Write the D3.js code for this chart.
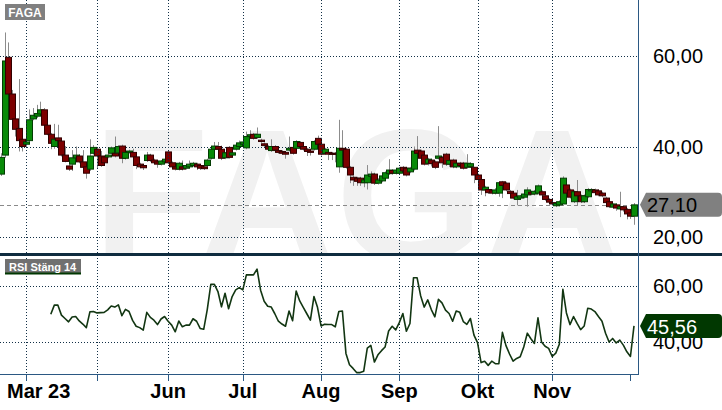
<!DOCTYPE html>
<html><head><meta charset="utf-8">
<script src="https://cdn.jsdelivr.net/npm/d3@7/dist/d3.min.js"></script>
<style>body{margin:0;background:#fff}svg{display:block}text{font-family:"Liberation Sans",Arial,sans-serif}</style>
</head><body><svg id="c" width="722" height="410"></svg>
<script>
const symbol = "FAGA";
const rsiTitle = "RSI Stäng 14";
const open  = [33.9,38.1,59.7,51.6,46.1,44.0,41.6,40.5,41.3,46.1,46.7,47.2,48.1,44.7,42.7,40.0,41.9,41.2,38.1,35.7,36.1,37.5,37.9,36.6,35.5,35.0,38.5,39.4,37.9,37.7,37.7,38.5,38.5,38.6,40.1,37.4,38.7,38.7,37.7,36.1,35.8,36.9,38.1,37.0,36.6,36.1,36.6,38.8,36.4,35.5,35.0,35.5,35.2,35.5,35.8,36.1,35.8,35.5,35.8,37.4,39.4,40.0,39.4,37.5,39.8,38.1,39.4,40.0,40.5,39.7,42.2,42.7,42.0,41.4,40.6,40.0,39.1,40.0,39.1,38.9,38.7,39.2,39.8,39.6,40.9,40.0,39.4,39.0,39.4,41.8,40.5,38.5,38.7,38.5,38.5,35.5,39.6,39.4,35.4,33.2,33.0,33.0,32.0,32.0,33.4,33.9,31.9,32.4,33.0,34.0,34.7,34.1,34.1,35.4,35.2,34.4,35.0,39.2,39.0,38.1,36.3,37.0,36.6,37.4,37.6,38.3,36.1,37.0,35.5,36.3,36.3,35.4,35.6,35.4,33.7,32.7,30.4,30.5,30.2,29.7,29.7,32.2,31.9,30.1,29.7,28.3,28.6,28.8,29.3,29.9,29.5,29.7,30.0,29.1,28.3,27.6,26.9,27.1,27.3,31.5,30.4,27.8,30.0,29.1,27.8,28.9,30.2,30.4,30.2,29.7,28.6,27.8,26.6,27.1,26.2,26.7,26.1,25.3,24.6];
const high  = [38.5,65.2,63.0,52.5,50.3,54.9,42.5,41.3,48.2,48.5,49.2,49.9,48.5,45.0,43.0,45.0,44.8,41.5,40.1,36.0,39.2,40.0,38.3,39.2,35.9,41.6,40.3,39.8,39.0,38.0,38.4,40.0,42.2,40.3,40.4,39.0,39.3,39.5,38.0,36.4,36.1,38.8,38.4,37.3,36.9,37.0,37.5,39.1,36.7,35.8,36.6,36.9,36.1,36.9,36.6,36.4,36.1,35.8,37.3,39.7,41.0,41.0,40.2,38.8,40.1,38.9,40.6,41.3,41.3,43.3,43.6,43.0,44.2,41.7,40.9,40.3,41.6,40.3,39.4,39.2,39.0,42.2,40.2,41.4,41.2,40.3,39.7,39.3,41.4,42.4,40.8,39.7,39.0,38.8,38.8,45.9,43.6,39.7,35.7,33.5,33.3,33.3,32.8,35.9,34.5,34.2,33.0,33.8,34.5,37.2,35.0,35.0,35.5,35.7,35.5,35.5,40.0,42.3,39.3,38.4,37.5,37.3,36.9,44.5,37.9,38.6,37.2,37.3,36.6,36.6,36.6,38.3,36.5,35.5,34.0,33.0,31.3,30.8,30.5,30.8,31.9,32.4,32.2,30.4,30.0,30.4,29.3,29.8,31.0,30.2,30.4,31.6,30.3,29.4,28.6,27.9,27.7,28.1,33.4,31.8,30.7,30.3,32.6,29.4,29.4,30.8,30.8,30.7,30.5,30.0,28.9,28.1,27.4,27.4,30.0,27.0,26.4,25.6,27.5];
const low   = [33.5,37.5,49.6,45.5,42.2,38.9,38.9,39.8,41.0,45.8,46.3,46.9,44.5,42.5,39.4,39.5,39.4,37.8,36.5,34.6,34.6,37.2,36.3,35.0,32.9,34.6,38.2,35.2,35.5,36.0,37.4,38.2,37.6,38.3,36.3,37.1,38.4,37.0,35.0,35.2,34.8,36.6,36.6,36.1,35.3,35.8,36.3,36.1,35.2,34.7,34.7,34.7,34.9,35.2,35.5,34.8,34.8,34.8,35.5,37.1,39.1,39.2,37.0,37.2,37.3,37.8,39.1,39.7,40.2,39.4,41.8,41.5,41.7,40.8,39.9,39.1,38.8,38.9,38.4,38.2,37.3,38.9,38.2,39.3,39.7,39.1,37.9,38.0,39.1,40.2,38.0,38.2,37.0,37.0,36.5,34.2,38.0,35.1,31.9,31.3,31.3,31.3,31.0,30.5,32.0,31.5,31.6,32.1,32.7,33.7,33.8,33.8,33.8,34.0,33.4,34.1,34.7,38.0,37.1,35.8,35.8,35.6,35.0,37.1,35.3,35.7,35.5,35.2,35.2,35.4,34.9,35.1,35.3,31.9,32.2,29.3,29.0,29.5,29.4,29.4,28.9,28.6,30.1,29.3,28.3,27.0,28.3,28.5,26.7,29.2,29.2,29.4,29.0,28.0,27.4,26.9,26.6,26.8,27.3,29.4,28.5,27.5,26.9,27.5,27.5,28.6,29.9,29.5,29.0,28.8,27.3,26.4,26.3,25.8,24.4,25.6,23.9,24.0,22.7];
const close = [37.6,58.9,51.6,46.0,43.8,41.3,40.0,41.0,45.9,46.9,47.3,48.1,44.7,42.7,40.7,41.6,41.3,38.1,36.7,35.0,37.5,38.1,36.6,35.4,34.1,37.9,39.8,37.9,35.8,36.4,38.1,39.7,37.9,40.0,37.4,38.7,39.0,37.7,35.8,35.5,35.3,38.1,36.9,36.4,36.1,36.8,37.2,36.4,35.5,35.0,36.3,35.0,35.8,36.1,36.3,35.5,35.2,35.1,37.0,39.4,40.1,39.4,37.4,38.6,37.6,38.6,40.3,40.8,41.0,42.2,42.6,41.8,42.7,41.1,40.2,39.4,40.0,39.2,38.7,38.5,38.3,39.6,38.5,41.1,40.0,39.4,38.9,38.7,41.1,40.5,38.3,39.4,38.3,38.3,38.3,39.6,39.2,35.4,33.7,32.6,32.3,32.0,32.6,33.7,33.9,31.9,32.6,33.5,34.2,34.8,34.1,34.8,35.2,34.6,33.7,35.2,39.0,38.5,37.4,36.1,37.2,36.2,35.4,37.9,36.4,36.1,36.9,35.5,36.3,35.8,35.2,36.3,36.2,33.7,32.7,30.4,31.0,29.8,29.7,30.4,32.0,31.4,30.4,29.6,28.6,28.9,29.1,29.5,30.4,29.5,30.1,31.3,29.3,28.3,27.7,27.3,27.4,27.8,33.0,29.7,28.8,30.0,29.1,27.8,29.1,30.5,30.5,29.8,29.3,29.1,27.6,26.7,27.3,26.4,26.7,26.0,25.1,24.6,27.1];
const rsiStart = 14;
const rsi = [49.8,53.1,53.1,49.5,48.3,47.1,48.8,49.0,47.4,46.3,45.0,50.7,50.8,50.3,50.4,50.5,51.4,52.8,52.4,53.2,49.3,51.6,50.8,47.6,45.5,45.0,44.1,50.5,48.7,47.7,46.1,48.1,49.0,47.3,45.9,43.5,47.4,45.3,45.9,45.9,48.2,47.3,44.7,44.4,51.5,60.6,60.6,58.0,52.5,57.4,51.8,56.2,58.6,59.4,58.6,64.0,64.0,64.0,66.1,58.5,54.5,52.7,52.4,50.0,47.3,46.3,45.5,51.0,47.5,58.2,54.6,52.3,50.0,47.7,56.2,52.3,45.6,46.2,46.1,46.1,45.3,50.8,51.0,35.7,31.6,30.3,28.8,28.8,29.3,37.6,38.6,32.6,35.2,36.7,38.0,43.8,45.5,44.2,46.8,50.1,43.7,46.5,63.0,63.0,56.5,52.4,55.0,51.5,48.9,55.2,53.9,51.3,50.1,47.3,51.0,50.5,47.2,46.2,48.3,42.3,39.6,32.4,32.9,31.4,32.9,32.0,32.0,43.3,38.5,35.5,32.9,33.9,34.5,38.0,43.0,41.0,39.3,48.5,39.8,38.3,37.5,34.6,35.8,39.0,58.8,50.3,46.1,49.0,46.5,44.3,45.6,52.0,51.7,50.8,49.0,47.3,43.0,39.8,41.1,39.5,40.5,38.7,36.3,34.6,45.6];
const priceTicks = [60, 40, 20];
const rsiTicks = [60, 40];
const monthIdx = [7, 27, 47, 68, 90, 112, 134, 155, 177];
const monthLabels = ["", "", "Jun", "Jul", "Aug", "Sep", "Okt", "Nov", ""];
const monthGrid = [true, true, true, true, true, true, true, true, false];
const startLabel = "Mar 23";
const lastPrice = 27.10;
const lastRsi = 45.56;

const fmt = v => v.toFixed(2).replace(".", ",");
const N = close.length;
const plotR = 638;
const svg = d3.select("#c");
const x = d3.scaleLinear().domain([0, N - 1]).range([1, 634]);
const y = d3.scaleLinear().domain([20, 60]).range([237, 56]);
const yr = d3.scaleLinear().domain([40, 60]).range([341.5, 286]);

const defs = svg.append("defs");
defs.append("clipPath").attr("id", "cTop").append("rect").attr("x", 0).attr("y", 0).attr("width", plotR).attr("height", 253);
defs.append("clipPath").attr("id", "cRsi").append("rect").attr("x", 0).attr("y", 256).attr("width", plotR).attr("height", 118);

const topG = svg.append("g").attr("clip-path", "url(#cTop)");
topG.append("text").attr("x", 93).attr("y", 261).attr("font-size", 190).attr("font-weight", "bold")
  .attr("fill", "#f1f1f1").text(symbol);

const gridCol = "#123047";
topG.selectAll(".hg").data(priceTicks).join("line")
  .attr("x1", 0).attr("x2", plotR).attr("y1", d => Math.round(y(d)) + 0.5).attr("y2", d => Math.round(y(d)) + 0.5)
  .attr("stroke", gridCol).attr("stroke-dasharray", "1,2");
const vg = monthIdx.filter((d, i) => monthGrid[i]);
svg.selectAll(".vg").data(vg).join("line")
  .attr("x1", d => Math.round(x(d)) + 0.5).attr("x2", d => Math.round(x(d)) + 0.5)
  .attr("y1", 0).attr("y2", 374).attr("stroke", gridCol).attr("stroke-dasharray", "1,2");

topG.append("line").attr("x1", 0).attr("x2", plotR).attr("y1", Math.round(y(lastPrice)) + 0.5).attr("y2", Math.round(y(lastPrice)) + 0.5)
  .attr("stroke", "#8a8a8a").attr("stroke-dasharray", "4,3");

const idx = d3.range(N);
topG.selectAll(".wick").data(idx).join("line")
  .attr("x1", i => Math.round(x(i)) + 0.5).attr("x2", i => Math.round(x(i)) + 0.5)
  .attr("y1", i => y(high[i])).attr("y2", i => y(low[i]))
  .attr("stroke", "#8c8c8c").attr("stroke-width", 1);
topG.selectAll(".body").data(idx).join("rect")
  .attr("x", i => Math.round(x(i)) - 3 + 0.5)
  .attr("y", i => y(Math.max(open[i], close[i])))
  .attr("width", 6)
  .attr("height", i => Math.max(1, Math.abs(y(open[i]) - y(close[i]))))
  .attr("fill", i => close[i] >= open[i] ? "#088a08" : "#7c0000")
  .attr("stroke", i => close[i] >= open[i] ? "#033d03" : "#320000")
  .attr("stroke-width", 1);

svg.append("rect").attr("x", 0).attr("y", 253).attr("width", 722).attr("height", 3).attr("fill", "#0f2c3f");

const rg = svg.append("g").attr("clip-path", "url(#cRsi)");
rg.selectAll(".rh").data(rsiTicks).join("line")
  .attr("x1", 0).attr("x2", plotR).attr("y1", d => Math.round(yr(d)) + 0.5).attr("y2", d => Math.round(yr(d)) + 0.5)
  .attr("stroke", gridCol).attr("stroke-dasharray", "1,2");
const line = d3.line().x((d, i) => x(i + rsiStart)).y(d => yr(d));
rg.append("path").attr("d", line(rsi)).attr("fill", "none").attr("stroke", "#123612").attr("stroke-width", 1.6)
  .attr("stroke-linejoin", "round");

const frameCol = "#2b5883";
svg.append("line").attr("x1", plotR + 0.5).attr("x2", plotR + 0.5).attr("y1", 0).attr("y2", 374.5).attr("stroke", frameCol);
svg.append("line").attr("x1", 0).attr("x2", plotR + 1).attr("y1", 374.5).attr("y2", 374.5).attr("stroke", frameCol);
svg.selectAll(".tk").data(monthIdx).join("line")
  .attr("x1", d => Math.round(x(d)) + 0.5).attr("x2", d => Math.round(x(d)) + 0.5)
  .attr("y1", 375).attr("y2", 381).attr("stroke", frameCol);

svg.selectAll(".xl").data(monthIdx.map((d, i) => ({d, t: monthLabels[i]})).filter(o => o.t)).join("text")
  .attr("x", o => x(o.d)).attr("y", 398).attr("text-anchor", "middle")
  .attr("font-size", 20).attr("font-weight", "bold").attr("fill", "#000").text(o => o.t);
svg.append("text").attr("x", x(0) + 6).attr("y", 398).attr("font-size", 20).attr("font-weight", "bold").text(startLabel);

svg.selectAll(".yl").data(priceTicks).join("text")
  .attr("x", 653).attr("y", d => y(d) + 7).attr("font-size", 20).text(d => fmt(d));
svg.selectAll(".yrl").data(rsiTicks).join("text")
  .attr("x", 653).attr("y", d => yr(d) + 7).attr("font-size", 20).text(d => fmt(d));

function tag(yc, fill, txtCol, label) {
  const t = yc - 12, b = yc + 12;
  svg.append("path").attr("d", `M640,${yc} L646,${t} L718,${t} Q722,${t} 722,${t+4} L722,${b-4} Q722,${b} 718,${b} L646,${b} Z`).attr("fill", fill);
  svg.append("text").attr("x", 647).attr("y", yc + 7.5).attr("font-size", 20).attr("fill", txtCol).text(label);
}
tag(y(lastPrice), "#808080", "#000", fmt(lastPrice));
tag(yr(lastRsi), "#013801", "#fff", fmt(lastRsi));

svg.append("rect").attr("x", 5).attr("y", 4).attr("width", 40).attr("height", 16).attr("fill", "#808080");
svg.append("text").attr("x", 25).attr("y", 16.5).attr("text-anchor", "middle").attr("font-size", 12).attr("font-weight", "bold").attr("fill", "#fff").text(symbol);
svg.append("rect").attr("x", 5).attr("y", 259).attr("width", 76).attr("height", 15).attr("fill", "#707070");
svg.append("rect").attr("x", 5).attr("y", 272.5).attr("width", 76).attr("height", 2).attr("fill", "#013801");
svg.append("text").attr("x", 9).attr("y", 270.5).attr("font-size", 11).attr("font-weight", "bold").attr("fill", "#fff").text(rsiTitle);
</script></body></html>
